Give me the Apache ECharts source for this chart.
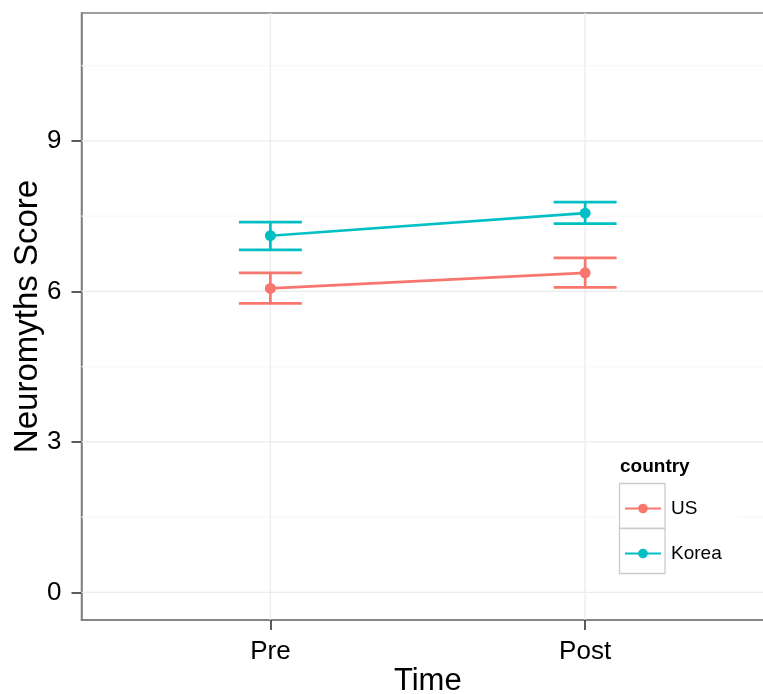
<!DOCTYPE html>
<html>
<head>
<meta charset="utf-8">
<script src="https://cdn.jsdelivr.net/npm/echarts@6/dist/echarts.min.js"></script>
<style>
  html, body { margin: 0; padding: 0; background: #fff; }
  #chart { width: 763px; height: 694px; }
</style>
</head>
<body>
<div id="chart"></div>
<script>
// data
const timePoints = ['Pre', 'Post']
const countries = ['US', 'Korea']
const usMean = [6.06, 6.37]
const usLow = [5.76, 6.08]
const usHigh = [6.37, 6.67]
const koreaMean = [7.11, 7.56]
const koreaLow = [6.83, 7.35]
const koreaHigh = [7.38, 7.78]
const yTicks = [0, 3, 6, 9]
const yMinor = [1.5, 4.5, 7.5, 10.5]
const xTicks = [1, 2]

const colors = { US: '#F8766D', Korea: '#00BFC4' }
const font = '"Liberation Sans", Arial, Helvetica, sans-serif'

const toPoints = (means) => means.map((v, i) => [i + 1, v])
const toBars = (lows, highs) => lows.map((v, i) => [i + 1, v, highs[i]])

// error bar: vertical segment + two caps (width 0.2 in x units)
const renderErrorBar = (color) => (params, api) => {
  const x = api.value(0)
  const top = api.coord([x, api.value(2)])
  const bottom = api.coord([x, api.value(1)])
  const left = api.coord([x - 0.1, 0])[0]
  const right = api.coord([x + 0.1, 0])[0]
  const style = { stroke: color, lineWidth: 2.7 }
  return {
    type: 'group',
    children: [
      { type: 'line', shape: { x1: top[0], y1: top[1], x2: bottom[0], y2: bottom[1] }, style },
      { type: 'line', shape: { x1: left, y1: top[1], x2: right, y2: top[1] }, style },
      { type: 'line', shape: { x1: left, y1: bottom[1], x2: right, y2: bottom[1] }, style }
    ]
  }
}

// panel grid lines
const gridData = [
  ...yMinor.map(v => ['hMinor', v]),
  ...yTicks.map(v => ['h', v]),
  ...xTicks.map(v => ['v', v])
]
const renderGrid = (params, api) => {
  const cs = params.coordSys
  const kind = gridData[params.dataIndex][0]
  const v = api.value(1)
  if (kind === 'v') {
    const x = api.coord([v, 0])[0]
    return { type: 'line', shape: { x1: x, y1: cs.y, x2: x, y2: cs.y + cs.height },
      style: { stroke: '#ebebeb', lineWidth: 1.3 } }
  }
  const y = api.coord([1, v])[1]
  return { type: 'line', shape: { x1: cs.x, y1: y, x2: cs.x + cs.width, y2: y },
    style: { stroke: kind === 'h' ? '#ebebeb' : '#f8f8f8', lineWidth: 1.3 } }
}

const chart = echarts.init(document.getElementById('chart'))
chart.setOption({
  animation: false,
  backgroundColor: '#fff',
  textStyle: { fontFamily: font },
  grid: {
    left: 81.5, top: 13, right: -11, bottom: 74,
    outerBoundsMode: 'none',
    show: true, backgroundColor: '#fff', borderColor: '#7f7f7f', borderWidth: 1.5
  },
  xAxis: {
    type: 'value', min: 0.4, max: 2.6, position: 'bottom',
    name: 'Time', nameLocation: 'middle', nameGap: 46, nameMoveOverlap: false,
    nameTextStyle: { fontSize: 31, color: '#000', fontFamily: font },
    axisLine: { show: true, onZero: false, lineStyle: { color: '#7f7f7f', width: 1.5 } },
    splitLine: { show: false },
    axisTick: { show: true, length: 10, customValues: xTicks, lineStyle: { color: '#333', width: 1.6 } },
    axisLabel: {
      customValues: xTicks, margin: 19, fontSize: 26, color: '#000', fontFamily: font,
      formatter: (v) => timePoints[Math.round(v) - 1] || ''
    }
  },
  yAxis: {
    type: 'value', min: -0.55, max: 11.55, position: 'left',
    name: 'Neuromyths Score', nameLocation: 'middle', nameGap: 37, nameRotate: 90, nameMoveOverlap: false,
    nameTextStyle: { fontSize: 33, color: '#000', fontFamily: font },
    axisLine: { show: true, onZero: false, lineStyle: { color: '#7f7f7f', width: 1.5 } },
    splitLine: { show: false },
    axisTick: { show: true, inside: false, length: 10, customValues: yTicks, lineStyle: { color: '#333', width: 1.6 } },
    axisLabel: { customValues: yTicks, margin: 20, fontSize: 26, color: '#000', fontFamily: font }
  },
  legend: {
    data: countries,
    orient: 'vertical', left: 624, top: 499, padding: 0,
    itemWidth: 36, itemHeight: 12, itemGap: 26, z: 200,
    textStyle: { fontSize: 19, color: '#000', fontFamily: font, padding: [0, 0, 0, 5] }
  },
  graphic: [
    { type: 'rect', z: 100, shape: { x: 616, y: 450, width: 121, height: 136 }, style: { fill: '#fff' } },
    { type: 'rect', z: 101, shape: { x: 619.5, y: 483.5, width: 45.5, height: 45 }, style: { fill: '#fff', stroke: '#cccccc', lineWidth: 1.3 } },
    { type: 'rect', z: 101, shape: { x: 619.5, y: 528.5, width: 45.5, height: 45 }, style: { fill: '#fff', stroke: '#cccccc', lineWidth: 1.3 } },
    { type: 'text', z: 101, x: 620, y: 467, style: { text: 'country', fontSize: 19, fontWeight: 'bold', fill: '#000', font: 'bold 19px ' + font, verticalAlign: 'middle' } }
  ],
  series: [
    { type: 'custom', name: 'grid', silent: true, z: 1, data: gridData.map(d => [0, d[1]]), renderItem: renderGrid },
    { type: 'custom', name: 'US-err', silent: true, z: 2, data: toBars(usLow, usHigh), renderItem: renderErrorBar(colors.US) },
    { type: 'custom', name: 'Korea-err', silent: true, z: 2, data: toBars(koreaLow, koreaHigh), renderItem: renderErrorBar(colors.Korea) },
    {
      type: 'line', name: 'US', z: 3, data: toPoints(usMean),
      symbol: 'circle', symbolSize: 11,
      itemStyle: { color: colors.US }, lineStyle: { color: colors.US, width: 2.6 }
    },
    {
      type: 'line', name: 'Korea', z: 3, data: toPoints(koreaMean),
      symbol: 'circle', symbolSize: 11,
      itemStyle: { color: colors.Korea }, lineStyle: { color: colors.Korea, width: 2.6 }
    }
  ]
})
</script>
</body>
</html>
